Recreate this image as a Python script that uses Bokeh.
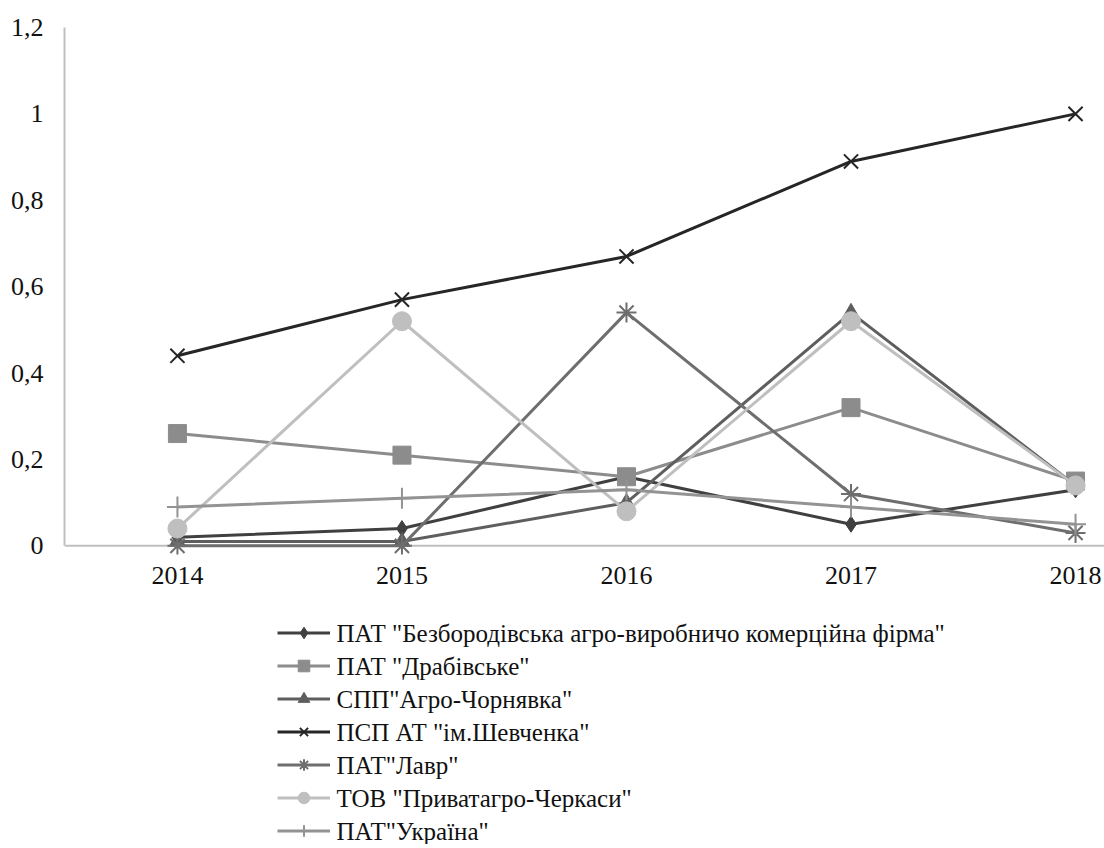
from bokeh.plotting import figure
from bokeh.models import FixedTicker, Span, Legend, LegendItem, Range1d
from bokeh.core.properties import value
from bokeh.layouts import column
from bokeh.embed import file_html
from bokeh.resources import INLINE

years = [2014, 2015, 2016, 2017, 2018]
x_tick_labels = ["2014", "2015", "2016", "2017", "2018"]
y_ticks = [0, 0.2, 0.4, 0.6, 0.8, 1.0, 1.2]
y_tick_labels = ["0", "0,2", "0,4", "0,6", "0,8", "1", "1,2"]

names = [
    'ПАТ "Безбородівська агро-виробничо комерційна фірма"',
    'ПАТ "Драбівське"',
    'СПП"Агро-Чорнявка"',
    'ПСП АТ "ім.Шевченка"',
    'ПАТ"Лавр"',
    'ТОВ "Приватагро-Черкаси"',
    'ПАТ"Україна"',
]
bezborodivska = [0.02, 0.04, 0.16, 0.05, 0.13]
drabivske = [0.26, 0.21, 0.16, 0.32, 0.15]
chornyavka = [0.01, 0.01, 0.10, 0.54, 0.14]
shevchenka = [0.44, 0.57, 0.67, 0.89, 1.00]
lavr = [0.0, 0.0, 0.54, 0.12, 0.03]
pryvatagro = [0.04, 0.52, 0.08, 0.52, 0.14]
ukraina = [0.09, 0.11, 0.13, 0.09, 0.05]

series = [bezborodivska, drabivske, chornyavka, shevchenka, lavr, pryvatagro, ukraina]
colors = ["#404040", "#8c8c8c", "#5e5e5e", "#262626", "#6e6e6e", "#bfbfbf", "#939393"]
markers = ["diamond", "square", "triangle", "x", "asterisk", "circle", "cross"]
sizes = [16, 18, 16, 20, 20, 19, 21]
legend_sizes = [14, 15, 14, 17, 17, 15, 19]

FONT = "Liberation Serif"


def draw_series(fig, marker_sizes):
    out = []
    for vals, col, mk, sz in zip(series, colors, markers, marker_sizes):
        r1 = fig.line(years, vals, line_color=col, line_width=3)
        if mk in ("x", "asterisk", "cross"):
            r2 = fig.scatter(years, vals, marker=mk, size=sz, line_color=col,
                             line_width=2, fill_color=col)
        else:
            r2 = fig.scatter(years, vals, marker=mk, size=sz, line_color=col,
                             fill_color=col)
        out.append([r1, r2])
    return out


# ---- main chart ----
p = figure(width=1104, height=605, output_backend="svg", toolbar_location=None,
           x_range=Range1d(2013.497, 2018.129), y_range=Range1d(-0.02, 1.2),
           min_border_left=64, min_border_top=27, min_border_right=0,
           min_border_bottom=51)
p.outline_line_color = None
p.xgrid.grid_line_color = None
p.ygrid.grid_line_color = None
p.background_fill_color = "white"
p.border_fill_color = "white"

p.yaxis.ticker = FixedTicker(ticks=y_ticks)
p.yaxis.major_label_overrides = {t: l for t, l in zip(y_ticks, y_tick_labels)}
p.yaxis.bounds = (0, 1.2)
p.yaxis.axis_line_color = "#bfbfbf"
p.yaxis.axis_line_width = 2
p.yaxis.major_tick_line_color = None
p.yaxis.minor_tick_line_color = None
p.yaxis.major_tick_out = 0
p.yaxis.major_label_standoff = 21
p.yaxis.major_label_text_font = FONT
p.yaxis.major_label_text_font_size = "26px"
p.yaxis.major_label_text_color = "#111111"

p.xaxis.ticker = FixedTicker(ticks=years)
p.xaxis.major_label_overrides = {y: l for y, l in zip(years, x_tick_labels)}
p.xaxis.axis_line_color = None
p.xaxis.major_tick_line_color = None
p.xaxis.minor_tick_line_color = None
p.xaxis.major_tick_out = 0
p.xaxis.major_label_standoff = 12
p.xaxis.major_label_text_font = FONT
p.xaxis.major_label_text_font_size = "26px"
p.xaxis.major_label_text_color = "#111111"

p.add_layout(Span(location=0, dimension="width", line_color="#bfbfbf",
                  line_width=2, level="underlay"))

draw_series(p, sizes)

# ---- legend panel ----
LG_W, LG_H = 1040, 239
ITEM_H, ITEM_GAP, GLYPH_W, STANDOFF = 29, 4, 53, 4
LEG_X, LEG_BOTTOM = 213, -1

lg = figure(width=1104, height=LG_H, output_backend="svg", toolbar_location=None,
            x_range=Range1d(0, LG_W), y_range=Range1d(0, LG_H),
            x_axis_type=None, y_axis_type=None,
            min_border_left=0, min_border_top=0, min_border_right=0,
            min_border_bottom=0)
lg.outline_line_color = None
lg.xgrid.grid_line_color = None
lg.ygrid.grid_line_color = None
lg.background_fill_color = "white"
lg.border_fill_color = "white"

# series drawn outside the legend panel's view; used only as legend swatches
legend_renderers = draw_series(lg, legend_sizes)
items = [LegendItem(label=" ", renderers=rs) for rs in legend_renderers]
legend = Legend(items=items, location=(LEG_X, LEG_BOTTOM), orientation="vertical",
                glyph_width=GLYPH_W, glyph_height=ITEM_H, label_height=ITEM_H,
                label_standoff=STANDOFF, spacing=ITEM_GAP, padding=0, margin=0,
                border_line_color=None, background_fill_alpha=0,
                label_text_font_size="4px")
lg.add_layout(legend, "center")

# legend labels as serif text, aligned with the swatch rows
n = len(names)
leg_top = LEG_BOTTOM + n * ITEM_H + (n - 1) * ITEM_GAP
label_x = [LEG_X + GLYPH_W + STANDOFF + 2] * n
label_y = [leg_top - ITEM_H / 2 - i * (ITEM_H + ITEM_GAP) for i in range(n)]
lg.text(x=label_x, y=label_y, text=names, text_font=value(FONT),
        text_font_size="25px", text_color="#111111",
        text_align="left", text_baseline="middle")

layout = column(p, lg, spacing=0)

open("out.html", "w").write(file_html(layout, INLINE))
